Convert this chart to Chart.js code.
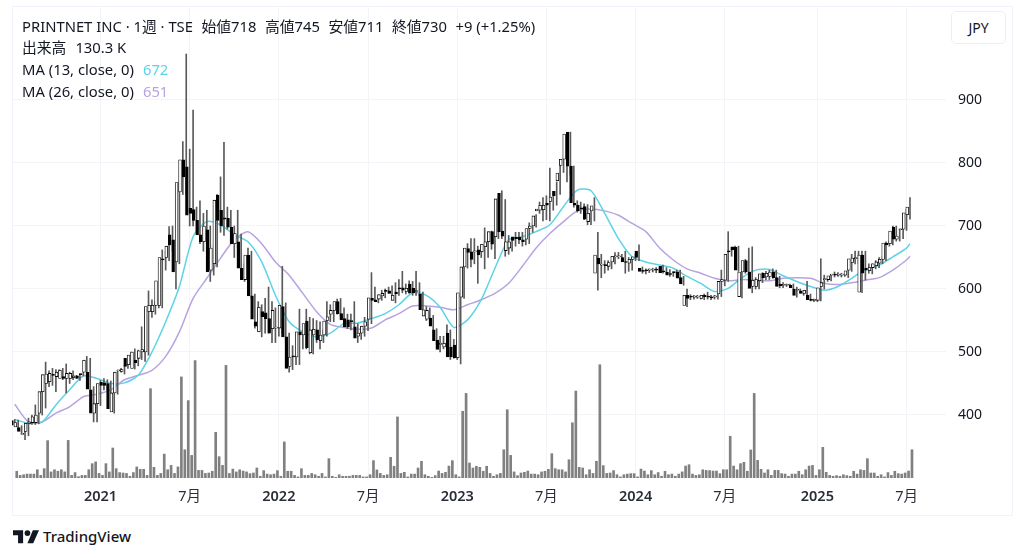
<!DOCTYPE html>
<html>
<head>
<meta charset="utf-8">
<title>PRINTNET INC</title>
<script src="https://cdn.jsdelivr.net/npm/chart.js@4"></script>
<style>
  html, body { margin: 0; padding: 0; background: #fff; width: 1024px; height: 558px; overflow: hidden; }
  body { font-family: "Noto Sans", "Noto Sans CJK JP", sans-serif; color: #131722; position: relative; }
  #frame { position: absolute; left: 12px; top: 6px; width: 999px; height: 508px; border: 1px solid #f0f3fa; box-sizing: content-box; }
  #price { position: absolute; left: 12px; top: 6px; }
  .row { position: absolute; left: 22px; font-size: 14.8px; line-height: 20px; white-space: nowrap; }
  .row span { margin-right: 8.5px; }
  .row b { font-weight: 400; margin-left: 9px; }
  #jpy { position: absolute; left: 951px; top: 11px; width: 53px; height: 31px; border: 1px solid #eceef3; border-radius: 5px; font-size: 14px; line-height: 31px; text-align: center; background: #fff; }
  #logo { position: absolute; left: 13px; top: 528px; }
  #brand { position: absolute; left: 43px; top: 526px; font-size: 15px; line-height: 21px; font-weight: 500; color: #131722; }
</style>
</head>
<body>
<div id="frame"></div>
<canvas id="price" width="1001" height="509"></canvas>

<div class="row" style="top:16px"><span>PRINTNET INC · 1週 · TSE</span><span>始値718</span><span>高値745</span><span>安値711</span><span>終値730</span><span>+9 (+1.25%)</span></div>
<div class="row" style="top:37px">出来高<b>130.3 K</b></div>
<div class="row" style="top:59px">MA (13, close, 0)<b style="color:#5dd3e6">672</b></div>
<div class="row" style="top:81px">MA (26, close, 0)<b style="color:#b8a3e0">651</b></div>
<div id="jpy">JPY</div>

<svg id="logo" width="26" height="16" viewBox="0 0 36 20"><path fill="#131722" d="M14 20H7V9H0V2h14v18zM28 20h-8l7.500-18H36l-8 18z"/><circle cx="20" cy="6" r="4" fill="#131722"/></svg>
<div id="brand">TradingView</div>

<script>
// Weekly bars, oldest first
const opens = [
  391,381,380,369,374,386,388,388,403,437, 450,453,464,461,458,461,458,458,459,462,
  465,468,468,440,403,418,452,451,450,405, 435,470,469,490,480,474,487,490,500,500,
  564,564,574,574,648,650,686,678,643,754, 805,794,728,726,709,686,675,694,630,640,
  749,725,713,712,698,672,675,633,615,654, 589,548,532,564,562,553,537,538,538,572,
  524,477,494,492,532,527,549,499,527,535, 518,527,550,560,566,580,561,553,551,550,
  540,525,530,541,552,585,583,584,589,598, 597,582,595,602,602,596,608,601,596,592,
  557,552,554,535,519,512,508,530,508,511, 491,587,635,664,659,659,662,659,667,675,
  691,683,752,692,661,665,683,682,682,678, 679,696,700,724,725,726,736,739,755,772,
  796,806,849,795,736,733,729,731,707,724, 625,649,638,638,636,643,651,651,650,643,
  641,647,660,633,629,630,630,630,631,636, 629,627,624,627,627,618,574,590,588,587,
  587,585,590,588,587,587,592,612,614,660, 667,666,588,627,645,627,604,604,613,625,
  619,620,627,618,608,606,606,606,600,598, 597,593,590,583,582,582,604,615,615,622,
  623,622,622,622,630,642,648,595,654,633, 629,634,637,641,647,673,672,698,679,694,695,718
];
const highs = [
  393,392,383,377,395,400,416,408,450,484, 470,474,472,472,474,481,468,470,463,464,
  468,493,490,445,425,455,458,456,454,440, 470,474,478,490,500,505,503,540,524,597,
  583,580,615,662,660,699,700,685,770,834, 973,822,884,730,740,720,725,700,670,750,
  778,833,730,725,700,725,687,640,665,660, 592,580,575,585,603,580,570,550,636,578,
  530,510,500,568,540,568,555,553,550,548, 535,580,575,575,584,585,570,560,560,580,
  545,540,555,552,626,603,590,598,600,603, 605,610,615,628,608,613,612,628,610,595,
  572,570,558,537,525,525,543,535,520,518, 597,650,672,680,680,668,668,697,688,692,
  695,745,756,742,685,680,690,690,690,685, 705,705,718,738,745,748,792,755,770,800,
  808,846,849,795,740,738,735,734,725,745, 690,655,645,645,645,658,658,655,660,650,
  650,655,670,635,632,632,633,634,634,638, 634,631,627,630,630,620,600,591,590,590,
  590,592,595,590,590,592,630,616,691,666, 668,668,640,647,665,667,618,620,626,628,
  630,632,630,620,610,608,608,608,603,600, 598,612,592,584,584,648,622,620,622,627,
  626,625,624,631,655,660,660,660,660,640, 640,645,650,651,675,676,700,700,695,697,726,745
];
const lows = [
  382,379,372,361,367,385,385,386,400,411, 445,447,437,460,456,435,450,456,458,455,
  462,463,440,389,389,415,440,440,408,403, 433,468,465,474,480,473,478,488,485,495,
  555,560,570,570,630,645,660,600,640,750, 750,700,700,690,672,660,670,612,622,635,
  690,685,695,680,650,665,630,612,610,585, 538,534,524,530,530,515,515,525,530,515,
  468,472,480,480,505,505,497,497,515,505, 515,525,548,548,560,557,547,537,535,540,
  515,520,525,534,545,580,578,582,586,593, 590,578,590,594,592,593,590,590,590,560,
  550,548,535,512,500,505,495,488,490,488, 481,585,633,635,640,609,650,632,650,663,
  648,680,680,652,655,660,668,672,668,670, 672,690,698,720,708,710,708,725,733,750,
  785,770,782,730,722,720,710,702,702,708, 598,618,625,630,632,640,648,645,625,628,
  630,645,645,625,624,626,627,626,626,625, 624,620,620,622,615,606,572,583,584,585,
  584,583,584,583,584,584,588,605,612,652, 660,628,586,625,624,594,600,600,610,615,
  615,617,616,602,602,604,604,600,587,594, 590,588,581,580,580,581,600,612,613,619,
  620,619,620,618,628,640,640,594,614,625, 624,632,634,640,645,668,670,676,676,680,693,711
];
const closes = [
  384,388,374,371,387,389,397,400,437,464, 465,466,463,468,471,458,466,466,462,458,
  464,487,441,403,418,450,447,447,410,435, 468,470,472,477,495,500,483,502,504,572,
  574,574,613,650,646,668,670,627,769,805, 778,717,720,709,686,675,700,627,665,741,
  709,700,711,698,672,688,633,615,654,589, 552,541,571,556,553,530,566,538,574,524,
  474,492,492,532,527,545,507,535,536,519, 527,549,556,566,580,561,551,540,540,548,
  522,530,541,548,586,582,580,591,593,596, 593,590,592,600,598,601,594,594,596,567,
  567,566,541,518,504,514,514,492,492,491, 594,635,665,658,647,660,654,671,675,691,
  671,743,691,684,675,675,677,680,678,675, 696,700,716,727,733,733,733,746,748,784,
  806,846,795,737,733,724,727,711,720,732, 654,640,639,637,642,652,652,652,643,642,
  647,651,650,628,628,629,631,631,630,626, 627,622,623,626,617,608,590,585,587,587,
  588,590,588,587,586,589,612,615,655,659, 662,630,627,645,627,601,614,615,624,618,
  625,627,618,604,605,606,606,602,590,598, 593,598,583,582,582,602,610,616,621,623,
  622,623,622,629,648,649,650,654,625,630, 634,640,643,647,673,670,692,679,684,695,721,730
];
// Volume in thousands of shares
const volumes = [
  31,12,15,18,18,18,38,12,43,172, 28,38,31,38,28,173,12,25,6,12,
  12,38,66,74,21,12,66,28,138,43, 25,23,21,8,25,51,40,40,12,411,
  49,12,21,110,38,58,21,51,465,130, 356,104,540,35,35,21,23,31,210,98,
  58,518,21,41,28,38,32,28,20,23, 46,8,34,18,15,18,34,8,166,31,
  31,12,5,43,12,12,21,15,8,21, 5,89,8,3,15,8,8,8,12,12,
  12,5,5,15,80,37,21,12,15,95, 54,281,21,26,5,18,18,46,77,15,
  8,3,11,32,21,26,55,80,15,5, 307,389,69,46,54,49,31,54,21,8,
  15,21,130,314,104,28,11,23,26,32, 18,18,15,28,31,40,112,43,38,38,
  28,84,254,400,49,46,15,38,21,77, 521,57,21,23,34,15,5,15,18,20,
  20,5,41,32,15,34,15,25,8,31, 15,18,8,18,28,55,61,18,12,15,
  38,35,34,32,32,20,38,38,192,55, 38,66,72,31,129,389,81,40,23,38,
  12,35,35,20,18,8,18,18,31,15, 38,55,58,12,38,141,26,12,8,11,
  8,15,11,8,31,18,38,35,89,23, 23,8,15,5,25,12,31,20,18,23,32,130
];

// Moving averages, read every fourth week
const maWeeks = [
  0,4,8,12,16,20,24,28,32,36,40,44,48,52,56,60,64,68,72,76,80,84,88,92,96,100,104,108,112,116,120,124,128,
  132,136,140,144,148,152,156,160,164,168,172,176,180,184,188,192,196,200,204,208,212,216,220,224,228,232,
  236,240,244,248,252,256,260,261
];
const ma13 = [
  393,387,389,416,440,462,458,450,451,463,500,548,604,683,707,702,686,675,643,590,548,532,524,530,545,546,553,561,575,594,590,571,539,
  551,583,633,678,683,691,702,731,757,756,720,680,651,643,638,633,620,609,596,601,618,630,631,621,612,604,
  598,604,617,631,638,651,665,672
];
const ma26 = [
  417,389,389,403,413,429,433,440,456,463,471,493,532,585,617,649,678,691,672,643,622,593,564,544,539,536,538,551,561,573,573,571,567,
  575,583,593,609,636,665,688,707,724,727,724,717,704,691,665,646,632,625,617,613,615,614,613,617,618,617,
  609,607,610,614,618,630,646,652
];

// Axis labels
const tickWeeks = [25, 51, 77, 103, 129, 155, 181, 207, 234, 260];
const tickLabels = ['2021', '7月', '2022', '7月', '2023', '7月', '2024', '7月', '2025', '7月'];
const priceTicks = [400, 500, 600, 700, 800, 900];

const gridColor = '#f3f4f8';
const fontName = '"Noto Sans", "Noto Sans CJK JP", sans-serif';

const wicks = lows.map((low, i) => ({ x: i, y: [low, highs[i]] }));
const bodies = opens.map((open, i) => ({ x: i, y: [Math.min(open, closes[i]), Math.max(open, closes[i])] }));
const volumeBars = volumes.map((v, i) => ({ x: i, y: v }));
const bodyColors = opens.map((open, i) => (closes[i] >= open ? '#ffffff' : '#000000'));

// the tick labels must not push the plot area in from the canvas edges
function noPadding(axis) {
  axis.paddingTop = 0;
  axis.paddingBottom = 0;
  axis.paddingLeft = 0;
  axis.paddingRight = 0;
}

new Chart(document.getElementById('price'), {
  data: {
    datasets: [
      { type: 'bar', label: '出来高', data: volumeBars, yAxisID: 'yVol', backgroundColor: '#808080', barThickness: 2, order: 5 },
      { type: 'line', label: 'MA 26', data: maWeeks.map((w, i) => ({ x: w, y: ma26[i] })), borderColor: '#b8a3e0', borderWidth: 1.5, pointRadius: 0, tension: 0.25, order: 4 },
      { type: 'line', label: 'MA 13', data: maWeeks.map((w, i) => ({ x: w, y: ma13[i] })), borderColor: '#5dd3e6', borderWidth: 1.5, pointRadius: 0, tension: 0.25, order: 3 },
      { type: 'bar', label: 'wick', data: wicks, backgroundColor: '#5a5a5a', barThickness: 1, order: 2 },
      { type: 'bar', label: 'body', data: bodies, backgroundColor: bodyColors, borderColor: '#000000', borderWidth: 0.8, borderSkipped: false, barThickness: 2.8, minBarLength: 1, order: 1 }
    ]
  },
  options: {
    responsive: false,
    animation: false,
    events: [],
    layout: { padding: 0 },
    plugins: { legend: { display: false }, tooltip: { enabled: false } },
    scales: {
      x: {
        type: 'linear',
        offset: false,
        min: -0.8,
        max: 271.5,
        grid: { color: gridColor, drawTicks: false, offset: false },
        border: { display: false },
        afterBuildTicks: (axis) => { axis.ticks = tickWeeks.map((w) => ({ value: w })); },
        afterFit: (axis) => { axis.height = 37; noPadding(axis); },
        ticks: {
          autoSkip: false,
          maxRotation: 0,
          padding: 10,
          color: '#2a2e39',
          font: (ctx) => ({
            family: fontName,
            size: 14.5,
            weight: ctx.tick && tickLabels[tickWeeks.indexOf(ctx.tick.value)] !== '7月' ? '600' : '400'
          }),
          callback: (value) => tickLabels[tickWeeks.indexOf(value)]
        }
      },
      y: {
        position: 'right',
        min: 300,
        max: 1049.2,
        grid: { color: gridColor, drawTicks: false },
        border: { display: false },
        afterBuildTicks: (axis) => { axis.ticks = priceTicks.map((p) => ({ value: p })); },
        afterFit: (axis) => { axis.width = 67; noPadding(axis); },
        ticks: { padding: 12, color: '#131722', font: { family: fontName, size: 14 } }
      },
      yVol: {
        display: false,
        min: 0,
        max: 2171
      }
    }
  }
});
</script>
</body>
</html>
